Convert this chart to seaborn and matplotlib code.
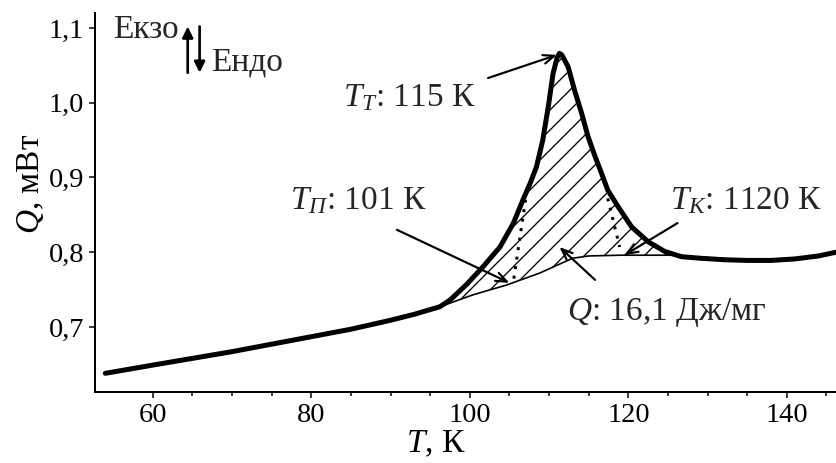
import numpy as np
import pandas as pd
import matplotlib
matplotlib.use("Agg")
import matplotlib.pyplot as plt
import seaborn as sns

# DSC signal (thick trace)
temp_k = [54, 60, 65, 70, 75, 80, 85, 90, 93, 96.2, 97.5, 99.6, 101.7, 103.8,
          105.5, 106.7, 107.6, 108.4, 109.2, 109.9, 110.5, 111.0, 111.3, 111.6,
          112.4, 113.2, 114.1, 114.9, 115.8, 116.6, 117.4, 118.7, 120.4, 122.5,
          124.6, 126.7, 129, 132, 135, 138, 141, 144, 146.2]
heat_flow = [0.638, 0.649, 0.658, 0.667, 0.677, 0.687, 0.697, 0.709, 0.717,
             0.727, 0.736, 0.757, 0.781, 0.807, 0.839, 0.870, 0.892, 0.914,
             0.950, 0.995, 1.039, 1.060, 1.066, 1.064, 1.048, 1.017, 0.986,
             0.955, 0.928, 0.906, 0.883, 0.861, 0.834, 0.814, 0.801, 0.794,
             0.792, 0.790, 0.789, 0.789, 0.791, 0.795, 0.800]

# Interpolated baseline under the peak (thin trace)
base_t = [93, 96.2, 100.4, 104.6, 108.8, 111.3, 113, 115, 119, 126.7]
base_q = [0.717, 0.727, 0.743, 0.756, 0.772, 0.784, 0.792, 0.795, 0.796, 0.796]

# Onset / end construction lines
onset_t = [107.2, 105.5]
onset_q = [0.883, 0.761]
end_t = [117.4, 118.9]
end_q = [0.872, 0.807]

x_ticks = [60, 80, 100, 120, 140]
y_ticks = [0.7, 0.8, 0.9, 1.0, 1.1]
y_tick_labels = ["0,7", "0,8", "0,9", "1,0", "1,1"]

sns.set_theme(style="ticks")
plt.rcParams["font.family"] = ["Liberation Serif", "DejaVu Serif"]
plt.rcParams["mathtext.fontset"] = "custom"
plt.rcParams["mathtext.rm"] = "Liberation Serif"
plt.rcParams["mathtext.it"] = "Liberation Serif:italic"
plt.rcParams["hatch.linewidth"] = 0.8
plt.rcParams["hatch.color"] = "black"

fig = plt.figure(figsize=(836 / 120, 463 / 120), dpi=120, facecolor="white")
ax = fig.add_axes([95 / 836, 71 / 463, 741 / 836, 379 / 463])

signal = pd.DataFrame({"T": temp_k, "Q": heat_flow})
baseline = pd.DataFrame({"T": base_t, "Q": base_q})

# hatched area between the peak and the baseline
sig_t = np.array(temp_k)
sig_q = np.array(heat_flow)
mask = (sig_t >= base_t[0]) & (sig_t <= base_t[-1])
poly_t = np.concatenate([sig_t[mask], base_t[::-1]])
poly_q = np.concatenate([sig_q[mask], base_q[::-1]])
ax.fill(poly_t, poly_q, facecolor="none", edgecolor="black", hatch="//", lw=0)

sns.lineplot(data=baseline, x="T", y="Q", sort=False, color="black", lw=1.0,
             ax=ax, solid_joinstyle="round")
sns.lineplot(data=signal, x="T", y="Q", sort=False, color="black", lw=3.0,
             ax=ax, solid_joinstyle="round", solid_capstyle="round")
ax.plot(onset_t, onset_q, color="black", lw=1.8, ls=(0, (1, 2.2)))
ax.plot(end_t, end_q, color="black", lw=1.8, ls=(0, (1, 2.2)))

ax.set_xlim(52.7, 146.2)
ax.set_ylim(0.613, 1.12)
ax.set_xticks(x_ticks)
ax.set_xticks(np.arange(65, 146, 5), minor=True)
ax.set_yticks(y_ticks)
ax.set_yticklabels(y_tick_labels)
sns.despine(ax=ax)
for side in ("left", "bottom"):
    ax.spines[side].set_linewidth(1.2)
    ax.spines[side].set_color("black")
ax.tick_params(axis="both", which="major", direction="out", length=3.5,
               width=0.9, labelsize=17, colors="black", pad=3)
ax.tick_params(axis="x", which="minor", direction="out", length=2.5, width=0.9,
               colors="black")

ax.set_xlabel("$T$, К", fontsize=20, color="black")
ax.set_ylabel("$Q$, мВт", fontsize=20, color="black")
ax.xaxis.set_label_coords(0.46, -0.098)
ax.yaxis.set_label_coords(-0.066, 0.55)

# exo / endo direction marker
ax.text(55.0, 1.097, "Екзо", fontsize=20, va="center", ha="left")
ax.text(67.4, 1.054, "Ендо", fontsize=20, va="center", ha="left")
ax.annotate("", xy=(64.4, 1.102), xytext=(64.4, 1.040),
            arrowprops=dict(arrowstyle="-|>,head_length=0.45,head_width=0.22",
                            color="black", lw=1.6, shrinkA=0, shrinkB=0))
ax.annotate("", xy=(65.9, 1.040), xytext=(65.9, 1.102),
            arrowprops=dict(arrowstyle="-|>,head_length=0.45,head_width=0.22",
                            color="black", lw=1.6, shrinkA=0, shrinkB=0))

arrow_kw = dict(arrowstyle="->,head_length=0.55,head_width=0.22", color="black",
                lw=1.3, shrinkA=0, shrinkB=0)

ax.text(84.0, 1.006, "$T_{Т}$: 115 К", fontsize=20, va="center", ha="left")
ax.annotate("", xy=(111.0, 1.064), xytext=(102.3, 1.033), arrowprops=arrow_kw)

ax.text(77.3, 0.869, "$T_{П}$: 101 К", fontsize=20, va="center", ha="left")
ax.annotate("", xy=(105.0, 0.759), xytext=(90.8, 0.830), arrowprops=arrow_kw)

ax.text(125.2, 0.869, "$T_{К}$: 1120 К", fontsize=20, va="center", ha="left")
ax.annotate("", xy=(119.5, 0.796), xytext=(126.2, 0.839), arrowprops=arrow_kw)

ax.text(112.2, 0.719, "$Q$: 16,1 Дж/мг", fontsize=20, va="center", ha="left")
ax.annotate("", xy=(111.3, 0.807), xytext=(115.8, 0.763), arrowprops=arrow_kw)

fig.savefig("out.png", dpi=120, facecolor="white")
